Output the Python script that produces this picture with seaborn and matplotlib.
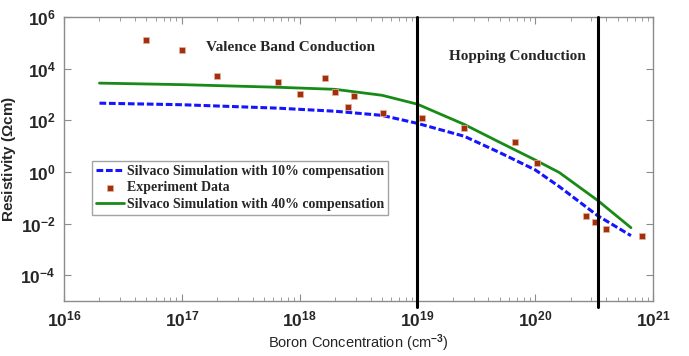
import matplotlib
matplotlib.use("Agg")
import matplotlib.pyplot as plt
import seaborn as sns
import numpy as np

# 실험 데이터 (Boron concentration, resistivity)
exp_conc = [5e16, 1e17, 2e17, 6.5e17, 1e18, 1.65e18, 2e18, 2.6e18, 2.9e18, 5.1e18,
            1.1e19, 2.5e19, 6.7e19, 1.03e20, 2.7e20, 3.2e20, 4e20, 8e20]
exp_res = [1.3e5, 5.2e4, 5e3, 3e3, 1e3, 4.3e3, 1.2e3, 3.2e2, 8.5e2, 2e2,
           1.2e2, 49, 15, 2.3, 0.02, 0.011, 0.0064, 0.0034]

# 시뮬레이션 결과
sim_conc = [2e16, 1e17, 6.5e17, 2e18, 5e18, 1e19, 2.5e19, 5e19, 1e20, 1.6e20, 3.4e20, 6.5e20]
sim_res_10 = [460, 400, 295, 224, 155, 76, 24, 5.6, 1.2, 0.27, 0.020, 0.0034]
sim_res_40 = [2750, 2400, 1900, 1580, 930, 420, 69, 14, 2.9, 0.95, 0.078, 0.0069]

region_bounds = [1e19, 3.4e20]

sns.set_style("ticks")
plt.rcParams["font.family"] = ["Liberation Sans", "DejaVu Sans"]
plt.rcParams["mathtext.fontset"] = "custom"
plt.rcParams["mathtext.rm"] = "Liberation Sans:bold"
plt.rcParams["mathtext.bf"] = "Liberation Sans:bold"
plt.rcParams["mathtext.it"] = "Liberation Sans:bold"

fig = plt.figure(figsize=(6.89, 3.56), dpi=100)
ax = fig.add_axes([64 / 689, 1 - 301 / 356, 589 / 689, 284 / 356])

sns.lineplot(x=sim_conc, y=sim_res_10, ax=ax, color="#1414ff", lw=2.2,
             dashes=False, label="Silvaco Simulation with 10% compensation")
ax.lines[-1].set_dashes((2.2, 0.9))
sns.scatterplot(x=exp_conc, y=exp_res, ax=ax, marker="s", s=24, color="#a3300c",
                edgecolor="#e8b0a0", linewidth=0.5, label="Experiment Data", zorder=3)
sns.lineplot(x=sim_conc, y=sim_res_40, ax=ax, color="#178a17", lw=2.0,
             label="Silvaco Simulation with 40% compensation")

for xb in region_bounds:
    ax.axvline(xb, ymin=-0.022, ymax=1, color="black", lw=2.2, clip_on=False, zorder=4)

ax.set_xscale("log")
ax.set_yscale("log")
ax.set_xlim(1e16, 1e21)
ax.set_ylim(1e-5, 1e6)
ax.set_yticks([1e-4, 1e-2, 1e0, 1e2, 1e4, 1e6])
ax.yaxis.set_minor_locator(matplotlib.ticker.NullLocator())
ax.xaxis.set_minor_locator(matplotlib.ticker.LogLocator(base=10, subs=np.arange(2, 10)))

for s in ax.spines.values():
    s.set_color("#8c8c8c")
    s.set_linewidth(1.0)
ax.tick_params(which="both", direction="in", top=True, right=True, color="#8c8c8c")
ax.tick_params(which="major", length=5, labelsize=12.5, pad=6)
ax.tick_params(which="minor", length=3)
for lbl in ax.get_xticklabels() + ax.get_yticklabels():
    lbl.set_fontweight("bold")

ax.set_xlabel("Boron Concentration (cm$^{-3}$)", fontsize=10.5, labelpad=2)
ax.set_ylabel("Resistivity ($\\Omega$cm)", fontsize=11, fontweight="bold", labelpad=2)
ax.xaxis.label.set_fontweight("normal")

ax.text(1.6e17, 6.8e4, "Valence Band Conduction", family="Liberation Serif",
        fontweight="bold", fontsize=11, va="center", ha="left")
ax.text(1.85e19, 2.9e4, "Hopping Conduction", family="Liberation Serif",
        fontweight="bold", fontsize=11, va="center", ha="left")

leg = ax.legend(loc="lower left", bbox_to_anchor=(0.048, 0.303), frameon=True,
                fancybox=False, edgecolor="#8c8c8c", borderpad=0.3,
                labelspacing=0.25, handlelength=2.0, handletextpad=0.2,
                borderaxespad=0, prop={"family": "Liberation Serif", "weight": "bold", "size": 10})
leg.get_frame().set_linewidth(1.0)

fig.savefig("out.png", dpi=100)
